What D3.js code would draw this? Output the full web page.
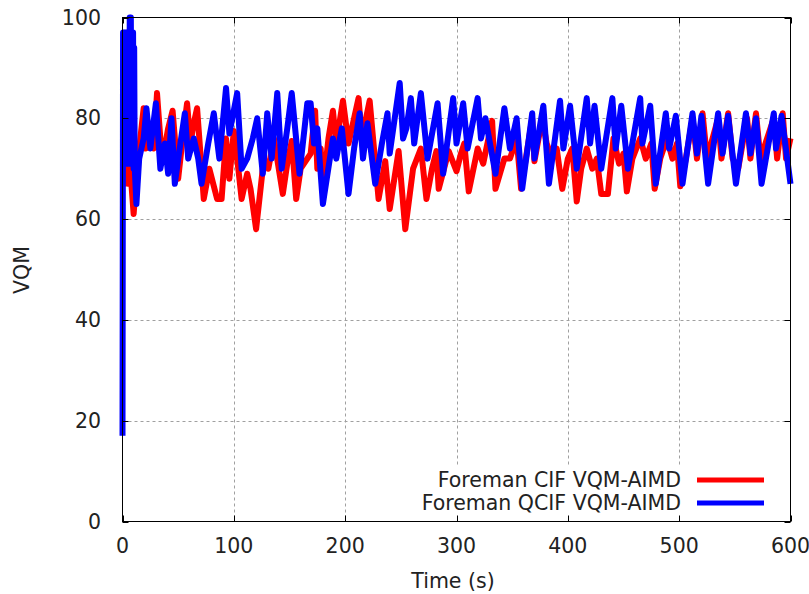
<!DOCTYPE html>
<html>
<head>
<meta charset="utf-8">
<script src="https://cdn.jsdelivr.net/npm/d3@7"></script>
<style>
  html, body { margin: 0; padding: 0; background: #fff; }
  svg { display: block; font-family: "DejaVu Sans", sans-serif; }
</style>
</head>
<body>
<div id="chart"></div>
<script>
// VQM over time for two Foreman streams under VQM-AIMD (gnuplot look)

const xTicks = [0, 100, 200, 300, 400, 500, 600];
const yTicks = [0, 20, 40, 60, 80, 100];

const seriesNames = ['Foreman CIF VQM-AIMD', 'Foreman QCIF VQM-AIMD'];
const seriesColors = ['#ff0000', '#0000ff'];

// CIF stream (red): time in s, VQM value
const cifTime = [1, 2, 4, 5, 7, 10, 13, 16, 19, 21, 24, 28, 31, 34, 37, 41, 45, 50, 54, 58, 61, 64, 67, 73, 78, 85, 89,
  93, 96, 100, 104, 107, 112, 115, 120, 127, 131, 136, 144, 148, 152, 156, 160, 163, 169, 173, 175, 178, 180, 185, 189, 192,
  198, 203, 208, 212, 215, 222, 230, 236, 240, 248, 254, 261, 268, 273, 278, 282, 284, 293, 300, 304, 307, 311, 319,
  324, 332, 335, 343, 348, 354, 358, 368, 370, 377, 381, 386, 390, 395, 400, 404, 408, 412, 417, 422,
  426, 430, 436, 441, 446, 450, 453, 458, 465, 470, 475, 478, 483, 489, 494, 498, 501, 506, 512, 516,
  521, 525, 535, 538, 544, 548, 553, 561, 564, 569, 573, 585, 588, 593, 596, 600];
const cifVqm = [70, 67, 70, 67, 70, 61, 70, 76, 82, 74, 78, 74, 85, 76, 73, 78, 81.5, 68, 76, 83, 75, 79, 82, 64, 70, 64, 64,
  76, 68, 77.5, 70, 64, 69, 66, 58, 72, 70, 76, 65, 71, 75.5, 64, 70, 71, 73, 81.5, 70, 74, 66, 76, 81.5, 75,
  83.5, 75, 80, 84, 76, 83.5, 64, 71.5, 62, 73.5, 58, 70, 74, 64, 70, 73.5, 66, 73.5, 69.5, 73, 75, 65.5, 74,
  71, 79.5, 66, 72, 72, 76, 66, 80, 71.5, 80, 75, 72, 74, 66, 72, 74, 63.5, 70, 74, 70,
  72, 65, 65, 76, 71, 73, 65.5, 72, 76, 72, 75, 66, 72, 76, 72, 75, 66.5, 72, 80, 72,
  81, 72, 80, 72, 81, 72, 70, 80, 72, 81, 72, 80, 72, 81, 72, 76];

// QCIF stream (blue)
const qcifTime = [0, 0.5, 1, 1.5, 2, 2.5, 3, 3.5, 4, 4.5, 5, 5.5, 6, 6.5, 7, 7.5, 8, 8.5, 9, 9.5, 10, 10.5, 11, 12.5,
  15, 19, 21.5, 25, 30, 34, 38, 41, 44, 47, 52, 56,
  59, 64, 68, 71, 77, 82, 87, 93, 96, 103, 107, 112, 117, 121, 126, 130, 134, 139, 143, 148, 152, 159, 166, 169,
  172, 175, 180, 189, 192, 197, 203, 208, 213, 216, 220, 227, 233, 238, 240, 249, 252, 255, 259, 262, 268, 274,
  283, 288, 297, 300, 306, 310, 319, 322, 326, 335, 343, 348, 354, 359, 368, 370, 378, 383, 393, 396,
  402, 408, 417, 420, 424, 430, 440, 443, 448, 454, 465, 467, 474, 479, 488, 491, 497, 503, 512, 516,
  520, 526, 535, 539, 544, 551, 560, 564, 569, 574, 585, 587, 592, 600];
const qcifVqm = [17, 97, 72, 97, 71, 97, 73, 97, 71, 97, 72, 97, 71, 100, 72, 100, 71, 97, 72, 97, 70, 94, 70, 63,
  72, 76, 82, 74, 83, 70, 75, 69, 80, 67, 75, 81,
  72, 76, 72, 67, 75, 81, 72, 86, 77, 85, 70, 72, 76, 80, 69, 81, 72, 85, 70, 78, 85, 69, 83, 83,
  75, 78, 63, 76, 72, 78, 65, 74, 81, 72, 79, 67, 75, 81, 73, 87, 76, 78, 84, 75, 85, 72,
  83, 69, 84, 75, 83, 74, 84, 76, 80, 69, 82, 74, 80, 66, 81, 72, 82.5, 67, 83.5, 74,
  82.5, 70, 84, 75, 82.5, 70, 84, 74, 82.5, 70, 84, 75, 82.5, 67, 81, 74, 80.5, 67, 81, 73,
  80.5, 67, 81, 73, 80.5, 67, 81, 73, 80, 67, 81, 74, 80.5, 67];

const width = 809, height = 594;
const margin = { top: 17.5, right: 18.5, bottom: 72.5, left: 122.5 };
const plotW = width - margin.left - margin.right;
const plotH = height - margin.top - margin.bottom;
const textColor = '#222';
const fontSize = 20.5;

const svg = d3.select('#chart').append('svg')
  .attr('width', width)
  .attr('height', height);

const x = d3.scaleLinear().domain([0, 600]).range([margin.left, margin.left + plotW]);
const y = d3.scaleLinear().domain([0, 100]).range([margin.top + plotH, margin.top]);

// Grid
const grid = svg.append('g')
  .attr('stroke', '#a0a0a0')
  .attr('stroke-width', 1)
  .attr('stroke-dasharray', '3,3');
grid.selectAll('line.gx')
  .data(xTicks.slice(1, -1))
  .join('line')
  .attr('x1', d => Math.round(x(d)) + 0.5).attr('x2', d => Math.round(x(d)) + 0.5)
  .attr('y1', y(100)).attr('y2', y(0));
grid.selectAll('line.gy')
  .data(yTicks.slice(1, -1))
  .join('line')
  .attr('class', 'gy')
  .attr('y1', d => Math.round(y(d)) + 0.5).attr('y2', d => Math.round(y(d)) + 0.5)
  .attr('x1', x(0)).attr('x2', x(600));

// Series
const line = d3.line()
  .x(d => x(d[0]))
  .y(d => y(d[1]));

const series = [
  d3.zip(cifTime, cifVqm),
  d3.zip(qcifTime, qcifVqm)
];

svg.append('g')
  .selectAll('path')
  .data(series)
  .join('path')
  .attr('fill', 'none')
  .attr('stroke', (d, i) => seriesColors[i])
  .attr('stroke-width', 6)
  .attr('stroke-linejoin', 'round')
  .attr('d', line);

// Legend (opaque key area)
const legendRight = 681;
const legendRows = [480, 503];
svg.append('rect')
  .attr('x', 425).attr('y', 467)
  .attr('width', 350).attr('height', 49)
  .attr('fill', '#fff');

const legend = svg.append('g');
legend.selectAll('text')
  .data(seriesNames)
  .join('text')
  .attr('x', legendRight)
  .attr('y', (d, i) => legendRows[i])
  .attr('dy', '0.35em')
  .attr('text-anchor', 'end')
  .attr('font-size', fontSize)
  .attr('fill', textColor)
  .text(d => d);
legend.selectAll('line')
  .data(seriesNames)
  .join('line')
  .attr('x1', 697).attr('x2', 764)
  .attr('y1', (d, i) => legendRows[i]).attr('y2', (d, i) => legendRows[i])
  .attr('stroke', (d, i) => seriesColors[i])
  .attr('stroke-width', 5);

// Frame and ticks (mirrored on all sides)
const frame = svg.append('g').attr('stroke', '#000').attr('stroke-width', 1);
frame.append('rect')
  .attr('x', x(0)).attr('y', y(100))
  .attr('width', plotW).attr('height', plotH)
  .attr('fill', 'none');

const tickLen = 6;
xTicks.forEach(t => {
  const px = Math.round(x(t)) + 0.5;
  frame.append('line').attr('x1', px).attr('x2', px).attr('y1', y(0)).attr('y2', y(0) - tickLen);
  frame.append('line').attr('x1', px).attr('x2', px).attr('y1', y(100)).attr('y2', y(100) + tickLen);
});
yTicks.forEach(v => {
  const py = Math.round(y(v)) + 0.5;
  frame.append('line').attr('x1', x(0)).attr('x2', x(0) + tickLen).attr('y1', py).attr('y2', py);
  frame.append('line').attr('x1', x(600)).attr('x2', x(600) - tickLen).attr('y1', py).attr('y2', py);
});

// Tick labels
svg.append('g')
  .selectAll('text')
  .data(xTicks)
  .join('text')
  .attr('x', d => x(d))
  .attr('y', 546)
  .attr('dy', '0.35em')
  .attr('text-anchor', 'middle')
  .attr('font-size', fontSize)
  .attr('fill', textColor)
  .text(d => d);

svg.append('g')
  .selectAll('text')
  .data(yTicks)
  .join('text')
  .attr('x', 101)
  .attr('y', d => y(d))
  .attr('dy', '0.35em')
  .attr('text-anchor', 'end')
  .attr('font-size', fontSize)
  .attr('fill', textColor)
  .text(d => d);

// Axis titles
svg.append('text')
  .attr('x', 453).attr('y', 581)
  .attr('dy', '0.35em')
  .attr('text-anchor', 'middle')
  .attr('font-size', fontSize)
  .attr('fill', textColor)
  .text('Time (s)');

svg.append('text')
  .attr('transform', 'translate(22,270) rotate(-90)')
  .attr('dy', '0.35em')
  .attr('text-anchor', 'middle')
  .attr('font-size', fontSize)
  .attr('fill', textColor)
  .text('VQM');
</script>
</body>
</html>
